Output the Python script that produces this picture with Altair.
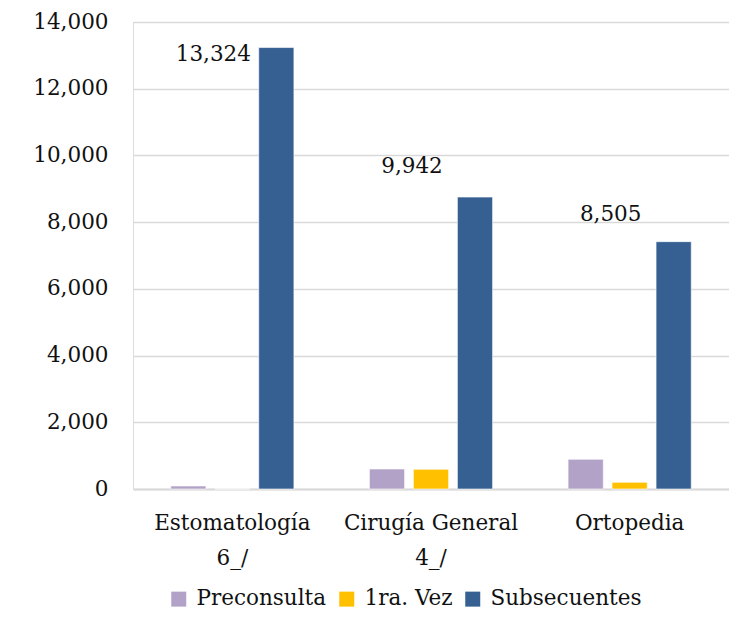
import altair as alt
import pandas as pd

categories = ["Estomatología\n6_/", "Cirugía General\n4_/", "Ortopedia"]
series = ["Preconsulta", "1ra. Vez", "Subsecuentes"]
preconsulta = [90, 600, 890]
primera_vez = [0, 590, 200]
subsecuentes = [13234, 8752, 7415]
totales = [13324, 9942, 8505]
colors = ["#b3a2c7", "#ffc000", "#366092"]
y_ticks = [0, 2000, 4000, 6000, 8000, 10000, 12000, 14000]

rows = []
for i, c in enumerate(categories):
    for s, vals in zip(series, [preconsulta, primera_vez, subsecuentes]):
        rows.append({"cat": c, "serie": s, "valor": vals[i]})
df = pd.DataFrame(rows)
df_tot = pd.DataFrame({"cat": categories, "total": totales})

FONT = "DejaVu Serif"
FS = 21.5

x_enc = alt.X(
    "cat:N",
    sort=categories,
    scale=alt.Scale(paddingInner=0.38, paddingOuter=0.19),
    axis=alt.Axis(
        title=None,
        labelAngle=0,
        ticks=False,
        domainColor="#d9d9d9",
        domainWidth=2,
        labelFontSize=FS,
        labelFont=FONT,
        labelColor="#111111",
        labelLineHeight=35,
        labelPadding=23,
        labelExpr="split(datum.label, '\\n')",
    ),
)

bars = alt.Chart(df).mark_bar(stroke="#ffffff", strokeWidth=0.6).encode(
    x=x_enc,
    xOffset=alt.XOffset(
        "serie:N", sort=series, scale=alt.Scale(paddingInner=0.2, paddingOuter=0)
    ),
    y=alt.Y(
        "valor:Q",
        scale=alt.Scale(domain=[0, 14000], nice=False),
        axis=alt.Axis(
            title=None,
            values=y_ticks,
            format=",.0f",
            ticks=False,
            domain=False,
            gridColor="#d9d9d9",
            gridWidth=1.3,
            labelFontSize=FS,
            labelFont=FONT,
            labelColor="#111111",
            labelPadding=25,
        ),
    ),
    color=alt.Color(
        "serie:N",
        sort=series,
        scale=alt.Scale(domain=series, range=colors),
        legend=alt.Legend(
            title=None,
            orient="none",
            direction="horizontal",
            legendX=35,
            legendY=566,
            symbolType="square",
            symbolSize=225,
            symbolStrokeWidth=0,
            labelFontSize=FS,
            labelFont=FONT,
            labelColor="#111111",
            labelOffset=7,
            columnPadding=9,
        ),
    ),
)

labels = alt.Chart(df_tot).mark_text(
    font=FONT, fontSize=FS, color="#111111", baseline="middle", dx=-19, dy=10
).encode(
    x=alt.X("cat:N", sort=categories),
    y=alt.Y("total:Q"),
    text=alt.Text("total:Q", format=","),
)

chart = (
    alt.layer(bars, labels)
    .properties(
        width=596,
        height=467,
        autosize=alt.AutoSizeParams(type="none"),
        padding={"left": 125, "top": 14, "right": 0, "bottom": 125},
    )
    .configure_view(strokeWidth=0)
    .configure(background="#ffffff")
)

chart.save("out.html", embed_options={"renderer": "svg", "actions": False})
